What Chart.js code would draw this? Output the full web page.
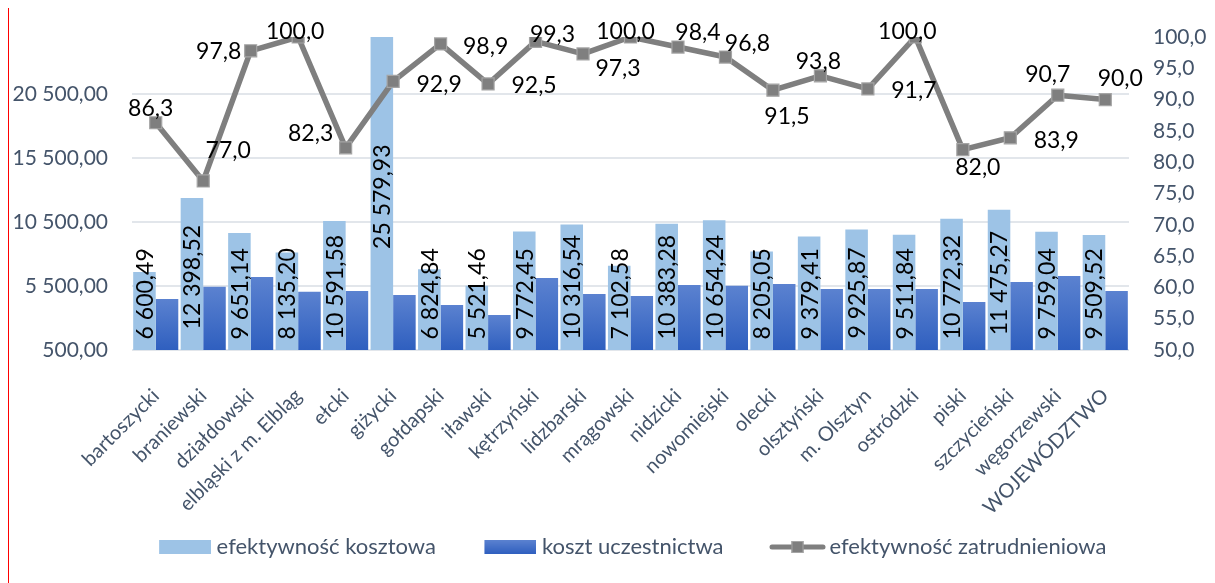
<!DOCTYPE html>
<html lang="pl">
<head>
<meta charset="utf-8">
<title>Efektywność kosztowa i zatrudnieniowa</title>
<script src="https://cdn.jsdelivr.net/npm/chart.js"></script>
<style>
  html, body { margin: 0; padding: 0; background: #fff; }
  #wrap { position: relative; width: 1215px; height: 583px; }
  #edge { position: absolute; left: 8px; top: 8px; width: 1px; height: 575px; background: #ff0000; }
</style>
</head>
<body>
<div id="wrap">
  <canvas id="chart"></canvas>
  <div id="edge"></div>
</div>
<script>
const categories = ['bartoszycki', 'braniewski', 'działdowski', 'elbląski z m. Elbląg', 'ełcki', 'giżycki',
  'gołdapski', 'iławski', 'kętrzyński', 'lidzbarski', 'mrągowski', 'nidzicki', 'nowomiejski', 'olecki',
  'olsztyński', 'm. Olsztyn', 'ostródzki', 'piski', 'szczycieński', 'węgorzewski', 'WOJEWÓDZTWO'];

const efektywnoscKosztowa = [6600.49, 12398.52, 9651.14, 8135.20, 10591.58, 25579.93, 6824.84, 5521.46,
  9772.45, 10316.54, 7102.58, 10383.28, 10654.24, 8205.05, 9379.41, 9925.87, 9511.84, 10772.32,
  11475.27, 9759.04, 9509.52];

const kosztUczestnictwa = [4500, 5460, 6220, 5050, 5120, 4810, 4030, 3240, 6140, 4890, 4730, 5590,
  5520, 5670, 5280, 5280, 5280, 4260, 5830, 6300, 5120];

const efektywnoscZatrudnieniowa = [86.3, 77.0, 97.8, 100.0, 82.3, 92.9, 98.9, 92.5, 99.3, 97.3, 100.0,
  98.4, 96.8, 91.5, 93.8, 91.7, 100.0, 82.0, 83.9, 90.7, 90.0];

const leftTicks = [500, 5500, 10500, 15500, 20500];

// where each line label sits relative to its marker (dx, dy)
const lineLabelShift = [[-5, -15], [25, -31], [-32, 0], [-3, -6], [-35, -15], [46, 2], [45, 2], [46, 1],
  [17, -8], [35, 14], [-5, -6], [20, -15], [22, -14], [14, 25], [-2, -15], [46, 1], [-8, -6], [15, 17],
  [46, 2], [-10, -22], [15, -22]];

const LIGHT = '#9dc3e6';
const DARK_TOP = '#5b82d0';
const DARK_BOTTOM = '#2f5fbf';
const LINE = '#7f7f7f';
const TEXT = '#44546a';

Chart.defaults.font.family = 'Lato, sans-serif';

// 1 234,56 style numbers
function plNum(v, digits) {
  const parts = v.toFixed(digits).split('.');
  const int = parts[0].replace(/\B(?=(\d{3})+(?!\d))/g, ' ');
  return parts[1] ? int + ',' + parts[1] : int;
}

function darkGradient(ctx, top, bottom) {
  const g = ctx.createLinearGradient(0, top, 0, bottom);
  g.addColorStop(0, DARK_TOP);
  g.addColorStop(1, DARK_BOTTOM);
  return g;
}

// legend icons: transparent lead-in on the left so the swatch sits close to its text
// and far from the previous entry
function makeIcon(w, h, lead, paint) {
  const c = document.createElement('canvas');
  c.width = w;
  c.height = h;
  const g = c.getContext('2d');
  g.translate(lead, 0);
  paint(g, w - lead, h);
  return c;
}
const legendIcons = [
  makeIcon(96, 14, 44, (g, w, h) => { g.fillStyle = LIGHT; g.fillRect(0, 0, w, h); }),
  makeIcon(96, 14, 44, (g, w, h) => { g.fillStyle = darkGradient(g, 0, h); g.fillRect(0, 0, w, h); }),
  makeIcon(100, 14, 43, (g, w, h) => {
    g.strokeStyle = LINE;
    g.lineWidth = 5;
    g.lineCap = 'round';
    g.beginPath();
    g.moveTo(3, h / 2);
    g.lineTo(w - 3, h / 2);
    g.stroke();
    g.fillStyle = LINE;
    g.fillRect(w / 2 - 6, 1, 12, 12);
    g.strokeStyle = '#a5a5a5';
    g.lineWidth = 1;
    g.strokeRect(w / 2 - 6 + 0.5, 1.5, 11, 11);
  })
];

const valueLabels = {
  id: 'valueLabels',
  afterDatasetsDraw(chart) {
    const ctx = chart.ctx;
    const area = chart.chartArea;
    ctx.save();
    ctx.fillStyle = '#000000';
    ctx.font = '23px Lato, sans-serif';
    ctx.textAlign = 'center';
    ctx.textBaseline = 'middle';

    // vertical labels inside the light bars
    chart.getDatasetMeta(0).data.forEach((bar, i) => {
      const txt = plNum(efektywnoscKosztowa[i], 2);
      const w = ctx.measureText(txt).width;
      const top = Math.max(bar.y, area.top);
      let cy = (top + bar.base) / 2;
      cy = Math.min(cy, bar.base - 17 - w / 2);
      ctx.save();
      ctx.translate(bar.x + 1, cy);
      ctx.rotate(-Math.PI / 2);
      ctx.fillText(txt, 0, 0);
      ctx.restore();
    });

    // labels next to the line markers
    chart.getDatasetMeta(2).data.forEach((pt, i) => {
      const [dx, dy] = lineLabelShift[i];
      ctx.fillText(plNum(efektywnoscZatrudnieniowa[i], 1), pt.x + dx, pt.y + dy + 1);
    });
    ctx.restore();
  }
};

const ctx = document.getElementById('chart').getContext('2d');

new Chart(ctx, {
  type: 'bar',
  data: {
    labels: categories,
    datasets: [{
      label: 'efektywność kosztowa',
      data: efektywnoscKosztowa,
      backgroundColor: LIGHT,
      yAxisID: 'y',
      order: 1
    }, {
      label: 'koszt uczestnictwa',
      data: kosztUczestnictwa,
      backgroundColor: (c) => {
        const y = c.chart.scales.y;
        if (c.type !== 'data' || !y) return DARK_BOTTOM;
        const top = y.getPixelForValue(c.raw);
        if (!isFinite(top) || !isFinite(y.bottom)) return DARK_BOTTOM;
        return darkGradient(c.chart.ctx, top, y.bottom);
      },
      yAxisID: 'y',
      order: 1
    }, {
      type: 'line',
      label: 'efektywność zatrudnieniowa',
      data: efektywnoscZatrudnieniowa,
      yAxisID: 'y1',
      borderColor: LINE,
      borderWidth: 5.5,
      borderJoinStyle: 'round',
      pointStyle: 'rect',
      pointRadius: 8.5,
      pointBackgroundColor: LINE,
      pointBorderColor: '#a5a5a5',
      pointBorderWidth: 1.2,
      tension: 0,
      order: 0
    }]
  },
  options: {
    responsive: true,
    maintainAspectRatio: false,
    animation: false,
    layout: { padding: { left: 0, right: -12, top: 37, bottom: 15 } },
    datasets: {
      bar: { categoryPercentage: 0.95, barPercentage: 1.0 }
    },
    plugins: {
      tooltip: { enabled: false },
      legend: {
        position: 'bottom',
        labels: {
          usePointStyle: true,
          pointStyleWidth: 85,
          boxHeight: 14,
          padding: 10,
          color: TEXT,
          font: { size: 22 },
          sort: (a, b) => a.datasetIndex - b.datasetIndex,
          generateLabels(chart) {
            const items = Chart.defaults.plugins.legend.labels.generateLabels(chart);
            items.forEach(it => {
              it.pointStyle = legendIcons[it.datasetIndex];
              it.lineWidth = 0;
            });
            return items;
          }
        }
      }
    },
    scales: {
      x: {
        grid: { display: false },
        border: { display: false },
        ticks: {
          autoSkip: false,
          minRotation: 45,
          maxRotation: 45,
          padding: 26,
          color: TEXT,
          font: { size: 20 }
        },
        afterFit(scale) { scale.height = 176; }
      },
      y: {
        position: 'left',
        min: 500,
        max: 25000,
        afterBuildTicks(axis) { axis.ticks = leftTicks.map(v => ({ value: v })); },
        grid: { color: '#e2e6eb', lineWidth: 2, drawTicks: false },
        border: { display: false },
        ticks: {
          padding: 24,
          color: TEXT,
          font: { size: 21 },
          callback: (v) => plNum(v, 2)
        },
        afterFit(scale) { scale.width = 132; }
      },
      y1: {
        position: 'right',
        min: 50,
        max: 100,
        grid: { display: false, drawTicks: false },
        border: { display: false },
        ticks: {
          stepSize: 5,
          padding: 24,
          color: TEXT,
          font: { size: 21 },
          callback: (v) => plNum(v, 1)
        },
        afterFit(scale) { scale.width = 98; }
      }
    }
  },
  plugins: [valueLabels]
});
</script>
</body>
</html>
